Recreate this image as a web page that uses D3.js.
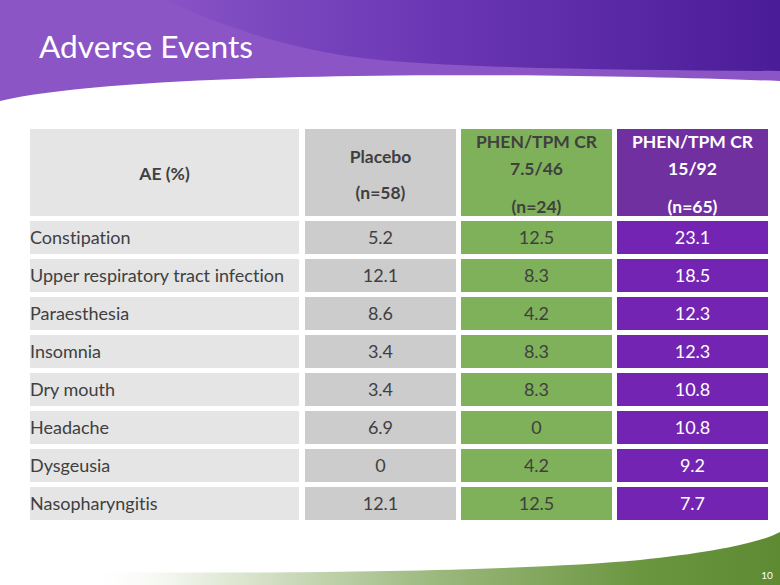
<!DOCTYPE html>
<html><head><meta charset="utf-8">
<script src="https://cdn.jsdelivr.net/npm/d3@7"></script>
<style>html,body{margin:0;padding:0;background:#fff}svg{display:block}text{font-variant-ligatures:none;font-feature-settings:"liga" 0}</style>
</head><body>
<script>
const title = "Adverse Events";
const pageNumber = "10";
const categories = ["Constipation","Upper respiratory tract infection","Paraesthesia","Insomnia","Dry mouth","Headache","Dysgeusia","Nasopharyngitis"];
const groups = ["Placebo","PHEN/TPM CR 7.5/46","PHEN/TPM CR 15/92"];
const headerLabel = "AE (%)";
const headerLines = [["Placebo","","(n=58)"],["PHEN/TPM CR","7.5/46","(n=24)"],["PHEN/TPM CR","15/92","(n=65)"]];
const placebo = [5.2,12.1,8.6,3.4,3.4,6.9,0,12.1];
const low = [12.5,8.3,4.2,8.3,8.3,0,4.2,12.5];
const high = [23.1,18.5,12.3,12.3,10.8,10.8,9.2,7.7];

const W=780,H=585;
const svg=d3.select("body").append("svg").attr("width",W).attr("height",H);
const defs=svg.append("defs");
const g1=defs.append("linearGradient").attr("id","dark").attr("x1","0").attr("x2","1");
g1.append("stop").attr("offset","0").attr("stop-color","#8753c5");
g1.append("stop").attr("offset","0.45").attr("stop-color","#6a36b4");
g1.append("stop").attr("offset","1").attr("stop-color","#4b1c98");
const g2=defs.append("linearGradient").attr("id","green").attr("x1","0").attr("x2","1");
g2.append("stop").attr("offset","0").attr("stop-color","#ffffff").attr("stop-opacity","0");
g2.append("stop").attr("offset","0.12").attr("stop-color","#f3f6ee");
g2.append("stop").attr("offset","0.5").attr("stop-color","#9cb97e");
g2.append("stop").attr("offset","0.8").attr("stop-color","#6b9640");
g2.append("stop").attr("offset","1").attr("stop-color","#5d8a32");

// banner
svg.append("path").attr("d","M0,0 H780 V81 C650,76 450,73 300,77 C180,80 60,87 0,101 Z").attr("fill","#8b55c5");
svg.append("path").attr("d","M165,0 H780 V71 C640,70 480,69 380,60 C300,52 230,30 165,0 Z").attr("fill","url(#dark)");
svg.append("text").attr("x",39).attr("y",58).attr("fill","#fff")
  .attr("font-family","Lato, 'Open Sans', sans-serif").attr("font-size",31).attr("textLength",214).attr("lengthAdjust","spacingAndGlyphs").text(title);

// bottom swoosh
svg.append("path").attr("d","M85,585 V572 C300,574 520,571 640,560 C710,553 760,543 780,532 V585 Z").attr("fill","url(#green)");
svg.append("text").attr("x",767).attr("y",579).attr("text-anchor","middle").attr("fill","#fff")
  .attr("font-family","Lato, sans-serif").attr("font-size",10).text(pageNumber);

// scales
const y=d3.scaleBand().domain(categories).range([221,520]).paddingInner(5/38).paddingOuter(0);
const x=d3.scaleBand().domain(groups).range([305,768]).paddingInner(5/156).paddingOuter(0);
const labelX0=30,labelX1=299;
const headTop=129,headBot=216;
const fill=["#cccccc","#7eb159","#7424b3"];
const headFill=["#cccccc","#7eb159","#7030a0"];
const txt=["#404040","#404040","#ffffff"];
const font="Lato, 'Open Sans', sans-serif";
const series=[placebo,low,high];

// header
svg.append("rect").attr("x",labelX0).attr("y",headTop).attr("width",labelX1-labelX0).attr("height",headBot-headTop).attr("fill","#e5e5e5");
svg.append("text").attr("x",(labelX0+labelX1)/2).attr("y",180).attr("text-anchor","middle").attr("font-family",font).attr("font-weight","bold").attr("font-size",17.5).attr("fill","#404040").text(headerLabel);
groups.forEach((gName,i)=>{
  svg.append("rect").attr("x",x(gName)).attr("y",headTop).attr("width",x.bandwidth()).attr("height",headBot-headTop).attr("fill",headFill[i]);
  const lines=headerLines[i];
  const ys = lines[1]==="" ? [163,null,199] : [148,175,213];
  lines.forEach((t,j)=>{ if(!t) return;
    svg.append("text").attr("x",x(gName)+x.bandwidth()/2).attr("y",ys[j]).attr("text-anchor","middle")
      .attr("font-family",font).attr("font-weight","bold").attr("font-size",17.5).attr("fill",txt[i]).text(t);
  });
});

// body
const rows=svg.append("g");
categories.forEach((c,r)=>{
  rows.append("rect").attr("x",labelX0).attr("y",y(c)).attr("width",labelX1-labelX0).attr("height",y.bandwidth()).attr("fill","#e5e5e5");
  rows.append("text").attr("x",labelX0).attr("y",y(c)+y.bandwidth()/2+6.5).attr("font-family",font).attr("font-size",18).attr("fill","#404040").text(c);
  groups.forEach((gName,i)=>{
    rows.append("rect").attr("x",x(gName)).attr("y",y(c)).attr("width",x.bandwidth()).attr("height",y.bandwidth()).attr("fill",fill[i]);
    rows.append("text").attr("x",x(gName)+x.bandwidth()/2).attr("y",y(c)+y.bandwidth()/2+6.5).attr("text-anchor","middle")
      .attr("font-family",font).attr("font-size",18).attr("fill",txt[i]).text(series[i][r]);
  });
});
</script>
</body></html>
